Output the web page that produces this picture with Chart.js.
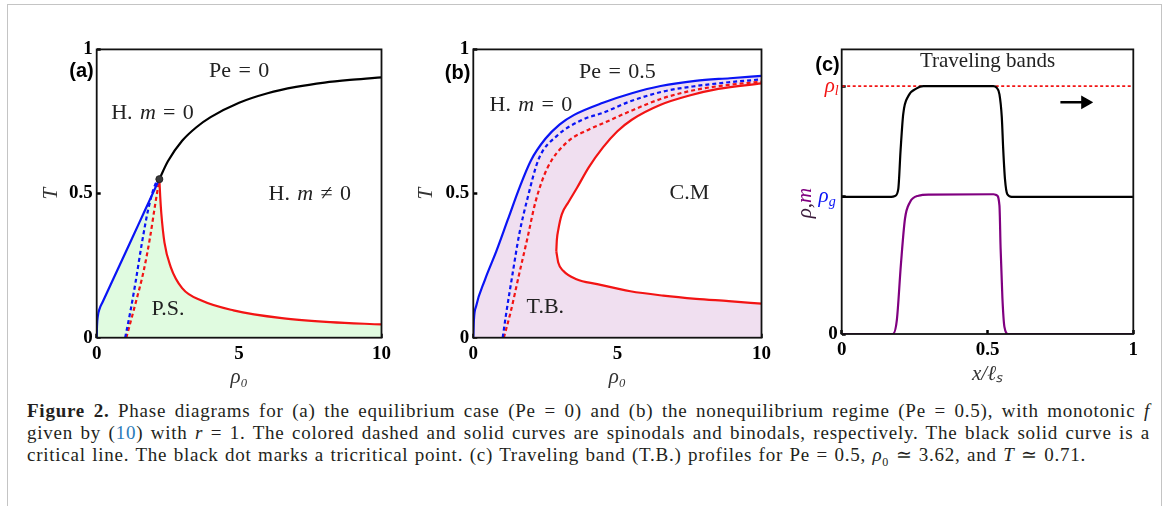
<!DOCTYPE html>
<html>
<head>
<meta charset="utf-8">
<script src="https://cdn.jsdelivr.net/npm/chart.js@4.4.0/dist/chart.umd.min.js"></script>
<style>
  body { margin: 0; background: #fff; width: 1167px; height: 506px; overflow: hidden; position: relative; }
  .outer { position: absolute; left: 7px; top: 4px; width: 1153px; height: 600px; border: 1px solid #c4c4c4; }
  canvas { position: absolute; }
  #caption { position: absolute; left: 27px; top: 400px; width: 1123px; font: 19px 'Liberation Serif', serif; line-height: 22px; color: #231f20; letter-spacing: 0.75px; word-spacing: 1px; }
  #caption .j { text-align: justify; text-align-last: justify; }
  #caption .ref { color: #2b7bb9; }
</style>
</head>
<body>
<div class="outer"></div>
<canvas id="chartA" width="360" height="360" style="left:40px;top:30px"></canvas>
<canvas id="chartB" width="365" height="360" style="left:415px;top:30px"></canvas>
<canvas id="chartC" width="370" height="360" style="left:785px;top:30px"></canvas>
<div id="caption">
  <div class="j"><b>Figure 2.</b> Phase diagrams for (a) the equilibrium case (Pe = 0) and (b) the nonequilibrium regime (Pe = 0.5), with monotonic <i>f</i></div>
  <div class="j">given by (<span class="ref">10</span>) with <i>r</i> = 1. The colored dashed and solid curves are spinodals and binodals, respectively. The black solid curve is a</div>
  <div>critical line. The black dot marks a tricritical point. (c) Traveling band (T.B.) profiles for Pe = 0.5, <i>ρ</i><sub style="font-size:12px">0</sub> ≃ 3.62, and <i>T</i> ≃ 0.71.</div>
</div>
<script>
// ---- panel (a): Pe = 0 ----
const aBlueRho = [0, 0.01, 0.04, 0.1, 0.2, 0.5, 1.0, 1.5, 1.9, 2.2];
const aBlueT   = [0, 0.04, 0.075, 0.1, 0.122, 0.186, 0.293, 0.4, 0.486, 0.55];
const aRedRho  = [2.2, 2.23, 2.27, 2.38, 2.6, 3.0, 3.7, 4.8, 6.5, 8.2, 10];
const aRedT    = [0.55, 0.49, 0.43, 0.33, 0.245, 0.172, 0.128, 0.095, 0.068, 0.054, 0.046];
const aBlueDashRho = [1.0, 1.19, 1.36, 1.59, 1.82, 2.05, 2.2];
const aBlueDashT   = [0, 0.095, 0.19, 0.33, 0.45, 0.53, 0.55];
const aRedDashRho  = [1.04, 1.36, 1.65, 1.87, 2.05, 2.2];
const aRedDashT    = [0, 0.118, 0.232, 0.346, 0.46, 0.55];
const aCritRho = [2.2, 2.5, 3.0, 3.5, 4.0, 5.0, 6.0, 7.0, 8.0, 9.0, 10];
const aCritT   = [0.55, 0.612, 0.683, 0.73, 0.765, 0.815, 0.848, 0.87, 0.885, 0.895, 0.903];
const aTriRho = [2.2];
const aTriT   = [0.55];

// ---- panel (b): Pe = 0.5 ----
const bBlueRho = [0, 0.02, 0.1, 0.4, 0.8, 1.2, 1.6, 2.0, 2.5, 3.0, 3.5, 4.5, 5.5, 6.5, 7.7, 8.9, 10];
const bBlueT   = [0, 0.06, 0.11, 0.2, 0.3, 0.41, 0.52, 0.615, 0.69, 0.74, 0.773, 0.815, 0.848, 0.873, 0.891, 0.9, 0.908];
const bBlueDashRho = [1.02, 1.14, 1.36, 1.59, 1.88, 2.27, 2.9, 3.81, 4.5, 5.45, 6.59, 7.73, 8.86, 10];
const bBlueDashT   = [0, 0.083, 0.22, 0.357, 0.483, 0.62, 0.70, 0.757, 0.78, 0.82, 0.854, 0.873, 0.886, 0.896];
const bRedDashRho  = [1.06, 1.31, 1.59, 1.88, 2.16, 2.56, 3.24, 4.03, 4.6, 5.45, 6.59, 7.73, 8.86, 10];
const bRedDashT    = [0, 0.095, 0.22, 0.346, 0.472, 0.586, 0.677, 0.723, 0.748, 0.786, 0.831, 0.86, 0.877, 0.888];
const bRedUpRho = [2.88, 2.9, 2.95, 3.07, 3.3, 3.6, 4.0, 4.5, 5.0, 5.5, 6.5, 7.5, 8.5, 10];
const bRedUpT   = [0.3, 0.34, 0.375, 0.428, 0.47, 0.52, 0.59, 0.66, 0.716, 0.756, 0.808, 0.84, 0.863, 0.882];
const bRedLoRho = [2.88, 2.95, 3.12, 3.58, 4.3, 5.45, 6.59, 7.73, 8.86, 10];
const bRedLoT   = [0.3, 0.26, 0.232, 0.203, 0.186, 0.161, 0.146, 0.135, 0.127, 0.118];

// ---- panel (c): traveling band profiles ----
const rhoG = 0.482;
const rhoL = 0.871;
const cX   = [0, 0.17, 0.183, 0.194, 0.202, 0.211, 0.229, 0.257, 0.28, 0.52, 0.531, 0.541, 0.549, 0.554, 0.56, 0.568, 0.583, 1];
const cRho = [0.482, 0.482, 0.485, 0.509, 0.647, 0.773, 0.837, 0.863, 0.871, 0.871, 0.866, 0.842, 0.762, 0.647, 0.543, 0.491, 0.482, 0.482];
const cXm  = [0, 0.175, 0.189, 0.203, 0.217, 0.234, 0.263, 0.3, 0.52, 0.531, 0.541, 0.545, 0.551, 0.558, 0.571, 1];
const cM   = [0, 0, 0.048, 0.244, 0.405, 0.463, 0.486, 0.49, 0.491, 0.488, 0.451, 0.30, 0.129, 0.025, 0, 0];
const cLineX = [0, 1];
const arrowX = [0.75, 0.835];
const arrowY = [0.814, 0.814];
const cYTicks = [0, rhoG, rhoL];

const pts = (xs, ys) => xs.map((x, i) => ({x: x, y: ys[i]}));

const BLUE = '#0a14f5';
const RED = '#f21414';
const SERIF = "'Liberation Serif', serif";
const tickFont = {family: SERIF, weight: 'bold', size: 19};

// draw a run of text pieces: [text, font, color, dy]
function drawParts(ctx, x, y, parts, align) {
  let w = 0;
  parts.forEach(p => { ctx.font = p[1]; w += ctx.measureText(p[0]).width; });
  let cx = align === 'right' ? x - w : (align === 'left' ? x : x - w / 2);
  ctx.textAlign = 'left';
  ctx.textBaseline = 'middle';
  parts.forEach(p => {
    ctx.font = p[1];
    ctx.fillStyle = p[2] || '#222';
    ctx.fillText(p[0], cx, y + (p[3] || 0));
    cx += ctx.measureText(p[0]).width;
  });
}

function notes(items) {
  return {
    id: 'notes',
    afterDraw(chart) {
      const ctx = chart.ctx, a = chart.chartArea;
      const sx = chart.scales.x, sy = chart.scales.y;
      ctx.save();
      items.forEach(it => {
        const x = it.x !== undefined ? sx.getPixelForValue(it.x) : a.left + it.dx;
        const y = it.y !== undefined ? sy.getPixelForValue(it.y) : a.top + it.dy;
        if (it.rot) {
          ctx.save();
          ctx.translate(x, y);
          ctx.rotate(it.rot);
          drawParts(ctx, 0, 0, it.parts, it.align);
          ctx.restore();
        } else {
          drawParts(ctx, x, y, it.parts, it.align);
        }
      });
      ctx.restore();
    }
  };
}

const frame = {
  id: 'frame',
  afterDatasetsDraw(chart) {
    const a = chart.chartArea, ctx = chart.ctx;
    ctx.save();
    ctx.strokeStyle = '#111';
    ctx.lineWidth = 1.8;
    ctx.strokeRect(a.left, a.top, a.right - a.left, a.bottom - a.top);
    ctx.restore();
  }
};

const fmt = v => String(+Number(v).toFixed(2));

function baseOptions(c) {
  const grid = {drawOnChartArea: false, drawTicks: true, tickLength: -4, tickWidth: 2.5, tickColor: '#000'};
  return {
    responsive: false,
    animation: false,
    events: [],
    layout: {padding: {top: c.top, right: c.right, left: 0, bottom: 0}},
    plugins: {
      legend: {display: false},
      tooltip: {enabled: false},
      filler: {propagate: false, drawTime: 'beforeDatasetsDraw'}
    },
    elements: {
      point: {radius: 0},
      line: {cubicInterpolationMode: 'monotone', borderWidth: 2.2}
    },
    scales: {
      x: {
        type: 'linear', min: c.xMin, max: c.xMax, z: 1,
        ticks: {stepSize: c.xStep, padding: 9, font: tickFont, color: '#000', maxRotation: 0, callback: fmt},
        grid: grid,
        border: {display: false},
        title: {display: true, text: c.xTitle, color: '#333', font: {family: SERIF, style: 'italic', size: 21}, padding: {top: 0, bottom: c.xTitlePad}},
        afterFit: s => { s.height = c.xh; }
      },
      y: {
        type: 'linear', min: 0, max: 1, z: 1,
        ticks: {stepSize: 0.5, padding: 8, font: tickFont, color: '#000', callback: fmt},
        grid: grid,
        border: {display: false},
        title: {display: c.yTitle !== '', text: c.yTitle, color: '#333', font: {family: SERIF, style: 'italic', size: 21, lineHeight: 1.1}, padding: {top: 0, bottom: 0}},
        afterFit: s => { s.width = c.yw; }
      }
    }
  };
}

const NOTE = '22px ' + SERIF;
const NOTE_I = 'italic 22px ' + SERIF;
const PANEL = "bold 20px 'Liberation Sans', sans-serif";
const sp = '\u2004';

// ---- chart (a) ----
new Chart(document.getElementById('chartA'), {
  type: 'line',
  data: {
    datasets: [
      {data: pts(aTriRho, aTriT), showLine: false, pointRadius: 3.5, pointBackgroundColor: '#3a3a3a', pointBorderColor: '#222', pointBorderWidth: 1},
      {data: pts(aCritRho, aCritT), borderColor: '#000', borderWidth: 2.2},
      {data: pts(aBlueRho, aBlueT), borderColor: BLUE},
      {data: pts(aRedRho, aRedT), borderColor: RED},
      {data: pts(aBlueDashRho, aBlueDashT), borderColor: BLUE, borderDash: [4, 3]},
      {data: pts(aRedDashRho, aRedDashT), borderColor: RED, borderDash: [4, 3]},
      {data: pts(aBlueRho.concat(aRedRho.slice(1)), aBlueT.concat(aRedT.slice(1))), borderWidth: 0, borderColor: 'rgba(0,0,0,0)', fill: 'origin', backgroundColor: 'rgb(224,251,224)'}
    ]
  },
  options: baseOptions({top: 15.5, right: 10.3, xMin: 0, xMax: 10, xStep: 5, xh: 52.3, yw: 56.7, xTitle: 'ρ₀', xTitlePad: 0, yTitle: 'T'}),
  plugins: [frame, notes([
    {x: 5.0, y: 0.923, parts: [['Pe' + sp + '=' + sp + '0', NOTE]]},
    {x: 1.96, y: 0.78, parts: [['H.' + sp, NOTE], ['m', NOTE_I], [sp + '=' + sp + '0', NOTE]]},
    {x: 7.48, y: 0.499, parts: [['H.' + sp, NOTE], ['m', NOTE_I], [sp + '≠' + sp + '0', NOTE]]},
    {x: 2.5, y: 0.1, parts: [['P.S.', NOTE]]},
    {dx: -3, dy: 22, align: 'right', parts: [['(a)', PANEL, '#000']]}
  ])]
});

// ---- chart (b) ----
new Chart(document.getElementById('chartB'), {
  type: 'line',
  data: {
    datasets: [
      {data: pts(bRedUpRho, bRedUpT), borderColor: RED, fill: '+1', backgroundColor: '#fff'},
      {data: pts(bRedLoRho, bRedLoT), borderColor: RED},
      {data: pts(bBlueRho, bBlueT), borderColor: BLUE, fill: 'origin', backgroundColor: 'rgb(240,223,240)'},
      {data: pts(bBlueDashRho, bBlueDashT), borderColor: BLUE, borderDash: [4, 3]},
      {data: pts(bRedDashRho, bRedDashT), borderColor: RED, borderDash: [4, 3]}
    ]
  },
  options: baseOptions({top: 15.5, right: 13.3, xMin: 0, xMax: 10, xStep: 5, xh: 52.3, yw: 58.3, xTitle: 'ρ₀', xTitlePad: 0, yTitle: 'T'}),
  plugins: [frame, notes([
    {x: 5.0, y: 0.922, parts: [['Pe' + sp + '=' + sp + '0.5', NOTE]]},
    {x: 2.0, y: 0.808, parts: [['H.' + sp, NOTE], ['m', NOTE_I], [sp + '=' + sp + '0', NOTE]]},
    {x: 7.5, y: 0.5, parts: [['C.M', NOTE]]},
    {x: 2.5, y: 0.106, parts: [['T.B.', NOTE]]},
    {dx: -3, dy: 24, align: 'right', parts: [['(b)', PANEL, '#000']]}
  ])]
});

// ---- chart (c) ----
const optC = baseOptions({top: 14.3, right: 21.7, xMin: 0, xMax: 1, xStep: 0.5, xh: 56, yw: 56.7, xTitle: 'x/ℓₛ', xTitlePad: 3, yTitle: ''});
optC.scales.y.afterBuildTicks = s => { s.ticks = cYTicks.map(v => ({value: v})); };
optC.scales.y.ticks.callback = v => (v === 0 ? '0' : '');
new Chart(document.getElementById('chartC'), {
  type: 'line',
  data: {
    datasets: [
      {data: pts(cX, cRho), borderColor: '#000'},
      {data: pts(cXm, cM), borderColor: 'rgb(128,0,128)'},
      {data: pts(cLineX, [rhoL, rhoL]), borderColor: RED, borderWidth: 1.8, borderDash: [3, 2.5]},
      {data: pts(arrowX, arrowY), borderColor: '#000', borderWidth: 2.5, pointRadius: [0, 5.5], pointStyle: 'triangle', pointRotation: 90, pointBackgroundColor: '#000', pointBorderColor: '#000'}
    ]
  },
  options: optC,
  plugins: [frame, notes([
    {x: 0.5, y: 0.957, parts: [['Traveling bands', '21px ' + SERIF]]},
    {dx: -2, dy: 16, align: 'right', parts: [['(c)', PANEL, '#000']]},
    {dx: -3, y: rhoL, align: 'right', parts: [['ρ', 'italic 21px ' + SERIF, RED], ['l', 'italic 14px ' + SERIF, RED, 5]]},
    {dx: -6, y: rhoG, align: 'right', parts: [['ρ', 'italic 21px ' + SERIF, BLUE], ['g', 'italic 14px ' + SERIF, BLUE, 5]]},
    {dx: -36, y: 0.46, rot: -Math.PI / 2, parts: [['ρ', 'italic 21px ' + SERIF, '#3a1a3a'], [',', '21px ' + SERIF, '#3a1a3a'], ['m', 'italic 21px ' + SERIF, 'rgb(128,0,128)']]}
  ])]
});
</script>
</body>
</html>
